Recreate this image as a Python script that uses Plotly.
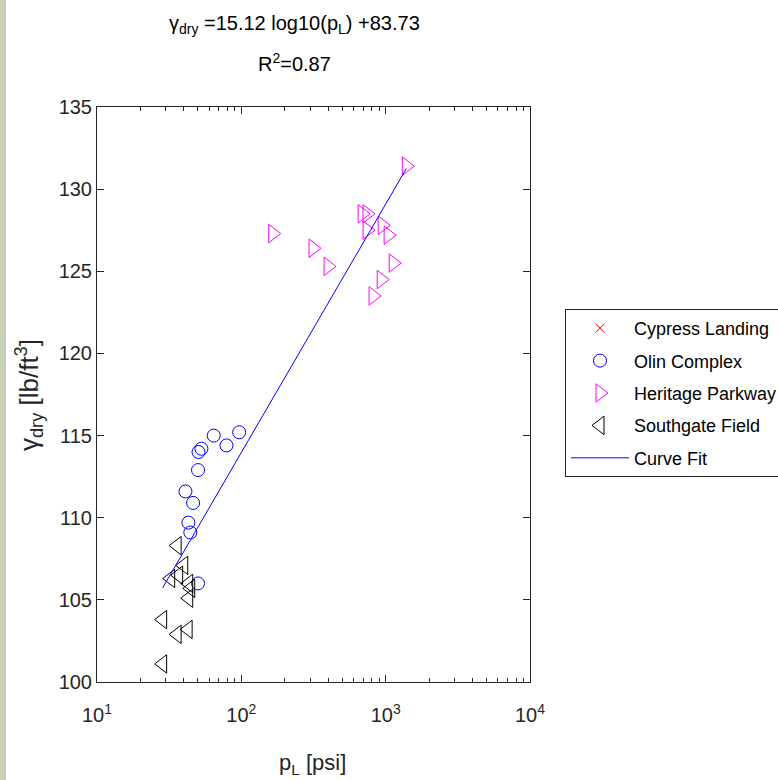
import numpy as np
import plotly.graph_objects as go

# ---- data ----
olin_p = [41.0, 46.3, 50.1, 50.5, 52.9, 64.4, 78.9, 96.6, 43.0, 44.3, 50.1]
olin_g = [111.6, 110.9, 112.9, 114.0, 114.2, 115.0, 114.4, 115.2, 109.7, 109.1, 106.0]

heritage_p = [1390, 165, 314, 399, 687, 743, 743, 946, 1040, 1127, 931, 818]
heritage_g = [131.4, 127.3, 126.4, 125.3, 128.5, 128.5, 127.5, 127.8, 127.2, 125.5, 124.5, 123.5]

southgate_p = [35.9, 39.9, 32.4, 36.8, 43.2, 44.6, 43.2, 28.5, 35.9, 42.8, 28.5]
southgate_g = [108.3, 107.1, 106.3, 106.5, 106.0, 105.7, 105.1, 103.8, 102.9, 103.2, 101.1]

# Cypress Landing has a legend entry but no visible points
cypress_p = [None]
cypress_g = [None]

fit_slope = 15.12
fit_intercept = 83.73
r_squared = 0.87

x_tick_vals = [10, 100, 1000, 10000]
x_tick_text = ["10<sup>1</sup>", "10<sup>2</sup>", "10<sup>3</sup>", "10<sup>4</sup>"]
y_tick_vals = [100, 105, 110, 115, 120, 125, 130, 135]

# ---- fit line over the data range ----
all_p = olin_p + heritage_p + southgate_p
fit_x = np.array([min(all_p), max(all_p)])
fit_y = fit_slope * np.log10(fit_x) + fit_intercept

FONT = "Liberation Sans, Arial, sans-serif"
AX = "#262626"

fig = go.Figure()
fig.add_trace(go.Scatter(x=cypress_p, y=cypress_g, mode="markers", name="Cypress Landing",
                         legendgroup="a",
                         marker=dict(symbol="x-thin", size=9, color="red",
                                     line=dict(color="red", width=1))))
fig.add_trace(go.Scatter(x=olin_p, y=olin_g, mode="markers", name="Olin Complex",
                         legendgroup="b",
                         marker=dict(symbol="circle-open", size=13, color="#0000ff",
                                     line=dict(color="#0000ff", width=1))))
fig.add_trace(go.Scatter(x=heritage_p, y=heritage_g, mode="markers", name="Heritage Parkway",
                         legendgroup="c",
                         marker=dict(symbol="triangle-right-open", size=16, color="#ff00ff",
                                     line=dict(color="#ff00ff", width=1))))
fig.add_trace(go.Scatter(x=southgate_p, y=southgate_g, mode="markers", name="Southgate Field",
                         legendgroup="d",
                         marker=dict(symbol="triangle-left-open", size=16, color="black",
                                     line=dict(color="black", width=1))))
fig.add_trace(go.Scatter(x=fit_x, y=fit_y, mode="lines", name="Curve Fit",
                         legendgroup="e",
                         line=dict(color="#0000ff", width=1)))

minor_x = [b * m for b in (10, 100, 1000) for m in range(2, 10)]

fig.update_xaxes(type="log", range=[1, 4], tickmode="array", tickvals=x_tick_vals,
                 ticktext=x_tick_text, ticks="inside", ticklen=7, tickcolor=AX,
                 showline=True, linecolor=AX, linewidth=1, mirror="ticks",
                 showgrid=False, zeroline=False, ticklabelstandoff=15,
                 tickfont=dict(family=FONT, size=20, color=AX),
                 minor=dict(tickmode="array", tickvals=minor_x, ticks="inside",
                            ticklen=4, tickcolor=AX, showgrid=False))
fig.update_yaxes(range=[100, 135], tickmode="array", tickvals=y_tick_vals,
                 ticks="inside", ticklen=7, tickcolor=AX,
                 showline=True, linecolor=AX, linewidth=1, mirror="ticks",
                 showgrid=False, zeroline=False,
                 tickfont=dict(family=FONT, size=20, color=AX))

fig.add_shape(type="rect", xref="paper", yref="paper", x0=-1, x1=(6 - 97) / 433,
              y0=-1, y1=2, fillcolor="#c9cfb7", line=dict(width=0), layer="below")

fig.add_annotation(text="γ<sub>dry</sub> =%.2f log10(p<sub>L</sub>) +%.2f" % (fit_slope, fit_intercept),
                   xref="paper", yref="paper", x=(294 - 97) / 433, y=(682 - 25) / 575,
                   xanchor="center", yanchor="middle", showarrow=False,
                   font=dict(family=FONT, size=20, color="black"))
fig.add_annotation(text="R<sup>2</sup>=%.2f" % r_squared,
                   xref="paper", yref="paper", x=(294 - 97) / 433, y=(682 - 62) / 575,
                   xanchor="center", yanchor="middle", showarrow=False,
                   font=dict(family=FONT, size=20, color="black"))
fig.add_annotation(text="p<sub>L</sub> [psi]",
                   xref="paper", yref="paper", x=(312 - 97) / 433, y=(682 - 764) / 575,
                   xanchor="center", yanchor="middle", showarrow=False,
                   font=dict(family=FONT, size=22, color=AX))
fig.add_annotation(text="γ<sub>dry</sub> [lb/ft<sup>3</sup>]", textangle=-90,
                   xref="paper", yref="paper", x=(29 - 97) / 433, y=(682 - 395) / 575,
                   xanchor="center", yanchor="middle", showarrow=False,
                   font=dict(family=FONT, size=26, color=AX))

fig.update_layout(
    width=778, height=780,
    margin=dict(l=97, r=248, t=107, b=98, autoexpand=False),
    paper_bgcolor="white", plot_bgcolor="white",
    showlegend=True,
    legend=dict(x=(565 - 97) / 433, xanchor="left", y=(682 - 309) / 575, yanchor="top",
                bgcolor="white", bordercolor=AX, borderwidth=1,
                font=dict(family=FONT, size=18, color="black"),
                traceorder="grouped", tracegroupgap=6, itemwidth=58),
)

fig.write_html("out.html", config={"displayModeBar": False},
               post_script="document.body.style.margin='0';document.body.style.overflow='hidden';")
